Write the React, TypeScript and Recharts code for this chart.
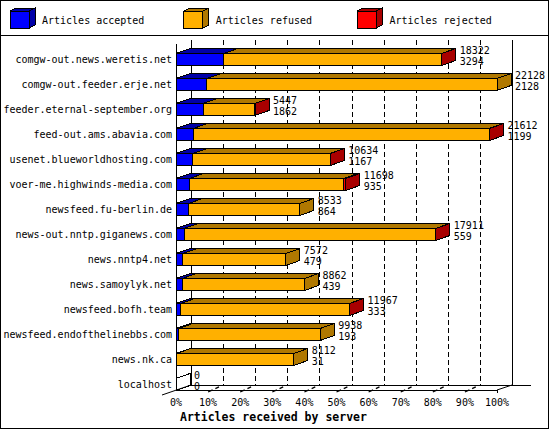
import React from 'react';
import * as RC from 'recharts';

const { BarChart, Bar, XAxis, YAxis, LabelList, Customized, CartesianGrid } = RC as any;

// ---------- data ----------
const hosts = [
  'comgw-out.news.weretis.net',
  'comgw-out.feeder.erje.net',
  'feeder.eternal-september.org',
  'feed-out.ams.abavia.com',
  'usenet.blueworldhosting.com',
  'voer-me.highwinds-media.com',
  'newsfeed.fu-berlin.de',
  'news-out.nntp.giganews.com',
  'news.nntp4.net',
  'news.samoylyk.net',
  'newsfeed.bofh.team',
  'newsfeed.endofthelinebbs.com',
  'news.nk.ca',
  'localhost',
];
const totalArticles = [18322, 22128, 5447, 21612, 10634, 11698, 8533, 17911, 7572, 8862, 11967, 9938, 8112, 0];
const acceptedArticles = [3294, 2128, 1862, 1199, 1167, 935, 864, 559, 479, 439, 333, 193, 31, 0];
const rejectedArticles = [15, 0, 10, 20, 15, 130, 0, 25, 0, 0, 20, 0, 0, 0];

const seriesKeys = ['accepted', 'refused', 'rejected'];
const seriesNames = ['Articles accepted', 'Articles refused', 'Articles rejected'];
const frontColors = ['#0000FF', '#FFB000', '#FF0000'];
const darkColors = ['#0000A8', '#B07800', '#A80000'];
const pctTicks = [0, 10, 20, 30, 40, 50, 60, 70, 80, 90, 100];
const axisTitle = 'Articles received by server';

const maxTotal = Math.max(...totalArticles);
const tableData = hosts.map((host, i) => {
  const acc = acceptedArticles[i];
  const rej = rejectedArticles[i];
  const ref = totalArticles[i] - acc - rej;
  return {
    host,
    accepted: (acc / maxTotal) * 100,
    refused: (ref / maxTotal) * 100,
    rejected: (rej / maxTotal) * 100,
    raw: [acc, ref, rej],
    totalRaw: totalArticles[i],
    accRaw: acc,
  };
});

// ---------- style ----------
const MONO = 'DejaVu Sans Mono';
const FS = 10;
const BAR_DX = 14;
const BAR_DY = 5;
const WALL_DX = 15;
const WALL_DY = 5;

function makeShape(si: number) {
  return (props: any) => {
    const { x, y, width, height, payload } = props;
    if (x == null || y == null) return <g />;
    const raw: number[] = payload.raw;
    const allZero = raw.every((v) => v === 0);
    if (raw[si] === 0 && !(allZero && si === 0)) return <g />;
    let last = true;
    for (let k = si + 1; k < 3; k++) if (raw[k] > 0) last = false;
    const w = Math.max(0, width || 0);
    const h = height;
    const top = `${x},${y} ${x + w},${y} ${x + w + BAR_DX},${y - BAR_DY} ${x + BAR_DX},${y - BAR_DY}`;
    const side = `${x + w},${y} ${x + w + BAR_DX},${y - BAR_DY} ${x + w + BAR_DX},${y + h - BAR_DY} ${x + w},${y + h}`;
    const ff = allZero ? 'none' : frontColors[si];
    const df = allZero ? 'none' : darkColors[si];
    return (
      <g shapeRendering="crispEdges">
        <rect x={x} y={y} width={w} height={h} fill={ff} stroke="#000" strokeWidth={1} />
        <polygon points={top} fill={df} stroke="#000" strokeWidth={1} />
        {last && <polygon points={side} fill={df} stroke="#000" strokeWidth={1} />}
      </g>
    );
  };
}

const lineLabel = (offset: number) => (props: any) => {
  const { x, y, width, height, value } = props;
  if (x == null || y == null) return null;
  const xe = x + Math.max(0, width || 0) + BAR_DX + 4;
  const c = y + height / 2;
  return (
    <text x={xe} y={c + offset} dominantBaseline="central" fontFamily={MONO} fontSize={FS} fill="#000">
      {value}
    </text>
  );
};

// back-wall grid line: drawn by CartesianGrid (behind the bars), shifted into the back plane
const gridLine = (p: any) => {
  const gx = Math.round(p.x1 + WALL_DX) + 0.5;
  const top = p.y1 - 6.5;
  const bottom = p.y2 - 6.5 - WALL_DY;
  const gl = p.x != null ? p.x : 176;
  const gw = p.width != null ? p.width : 321;
  const solid = Math.abs(p.x1 - gl) < 0.6 || Math.abs(p.x1 - (gl + gw)) < 0.6;
  return (
    <line
      key={p.key != null ? p.key : 'v' + p.index}
      x1={gx}
      y1={top}
      x2={gx}
      y2={bottom}
      stroke="#000"
      strokeWidth={1}
      shapeRendering="crispEdges"
      strokeDasharray={solid ? undefined : '5 3'}
    />
  );
};

const usePA: any = (RC as any).usePlotArea;

function Decor() {
  const pa = usePA ? usePA() : undefined;
  const L = pa && pa.x != null ? pa.x : 176;
  const T = pa && pa.y != null ? pa.y : 46.5;
  const W = pa && pa.width != null ? pa.width : 321;
  const H = pa && pa.height != null ? pa.height : 350;
  const floorFront = T + H - 6.5;
  const floorBack = floorFront - WALL_DY;
  const wallTopFront = T - 2.5;
  const px = (p: number) => L + (W * p) / 100;
  return (
    <g>
      {/* outer border and separator */}
      <rect x={0.5} y={0.5} width={548} height={428} fill="none" stroke="#000" shapeRendering="crispEdges" />
      <line x1={0} y1={35.5} x2={549} y2={35.5} stroke="#000" shapeRendering="crispEdges" />
      {/* legend */}
      {seriesNames.map((name, i) => {
        const lx = 10 + i * 173.7;
        return (
          <g key={name} shapeRendering="crispEdges">
            <polygon points={`${lx},11 ${lx + 6},8 ${lx + 25},8 ${lx + 19},11`} fill={darkColors[i]} stroke="#000" />
            <polygon points={`${lx + 19},11 ${lx + 25},8 ${lx + 25},25 ${lx + 19},28`} fill={darkColors[i]} stroke="#000" />
            <rect x={lx} y={11} width={19} height={17} fill={frontColors[i]} stroke="#000" />
            <text x={lx + 32} y={20} dominantBaseline="central" fontFamily={MONO} fontSize={FS} fill="#000">
              {name}
            </text>
          </g>
        );
      })}
      {/* front wall edge and floor */}
      <g shapeRendering="crispEdges">
        <line x1={Math.round(L) + 0.5} y1={wallTopFront} x2={Math.round(L) + 0.5} y2={floorFront} stroke="#000" />
        <line x1={L} y1={floorFront + 0.5} x2={px(100)} y2={floorFront + 0.5} stroke="#000" />
        <line x1={L + WALL_DX} y1={floorBack + 0.5} x2={px(100) + WALL_DX + 19} y2={floorBack + 0.5} stroke="#000" />
      </g>
      <line x1={px(100)} y1={floorFront} x2={px(100) + WALL_DX} y2={floorBack} stroke="#000" />
      <line x1={px(100) + 0.5} y1={floorFront} x2={px(100) + 0.5} y2={floorFront + 3} stroke="#000" />
      <line x1={L - 14} y1={floorFront + 5} x2={L + WALL_DX} y2={floorBack} stroke="#000" />
      {pctTicks
        .filter((p) => p > 0 && p < 100)
        .map((p) => (
          <line
            key={'t' + p}
            x1={px(p)}
            y1={floorFront + 2}
            x2={px(p) + WALL_DX}
            y2={floorBack}
            stroke="#000"
            strokeWidth={1.3}
            strokeDasharray="5 3 4 10"
          />
        ))}
      <text
        x={L + 4}
        y={416.5}
        dominantBaseline="central"
        fontFamily={MONO}
        fontWeight="bold"
        fontSize={11.5}
        fill="#000"
      >
        {axisTitle}
      </text>
    </g>
  );
}

export default function App() {
  return (
    <div style={{ position: 'fixed', left: 0, top: 0, width: 550, height: 430, background: '#fff' }}>
      <BarChart
        layout="vertical"
        width={550}
        height={430}
        data={tableData}
        margin={{ top: 46.5, right: 53, bottom: 0, left: 0 }}
        barSize={12}
      >
        <CartesianGrid horizontal={false} vertical={gridLine} />
        <XAxis
          type="number"
          domain={[0, 100]}
          ticks={pctTicks}
          interval={0}
          height={33.5}
          axisLine={false}
          tickLine={false}
          tickSize={0}
          tickMargin={2}
          tickFormatter={(v: number) => `${v}%`}
          tick={{ fill: '#000', fontSize: FS, fontFamily: MONO }}
        />
        <YAxis
          type="category"
          dataKey="host"
          width={176}
          interval={0}
          axisLine={false}
          tickLine={false}
          tickSize={0}
          tickMargin={4}
          tick={{ fill: '#000', fontSize: FS, fontFamily: MONO }}
        />
        {seriesKeys.map((k, si) => (
          <Bar
            key={k}
            dataKey={k}
            name={seriesNames[si]}
            stackId="s"
            fill={frontColors[si]}
            isAnimationActive={false}
            shape={makeShape(si)}
          >
            {si === 2 && <LabelList dataKey="totalRaw" content={lineLabel(-9)} />}
            {si === 2 && <LabelList dataKey="accRaw" content={lineLabel(2)} />}
          </Bar>
        ))}
        {Customized ? <Customized component={Decor} /> : <Decor />}
      </BarChart>
    </div>
  );
}
